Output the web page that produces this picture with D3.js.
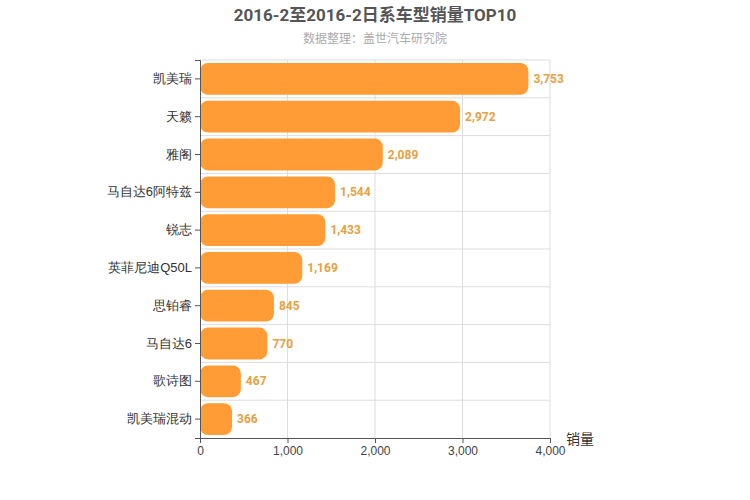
<!DOCTYPE html>
<html><head><meta charset="utf-8">
<script src="https://cdn.jsdelivr.net/npm/d3@7"></script>
<style>body{margin:0;font-family:Roboto,"Noto Sans CJK SC",sans-serif;}</style>
</head><body><div id="container"><svg></svg></div>
<script>
let categories = ['凯美瑞','天籁','雅阁','马自达6阿特兹','锐志','英菲尼迪Q50L','思铂睿','马自达6','歌诗图','凯美瑞混动'];
let values = [3753,2972,2089,1544,1433,1169,845,770,467,366];
let ticks = [0,1000,2000,3000,4000];

let width = 750, height = 500;
let margin = {left:200, right:200, top:60, bottom:62};
let svg = d3.select('svg').attr('width', width).attr('height', height);

let x = d3.scaleLinear().domain([0,4000]).range([margin.left, width-margin.right]);
let y = d3.scaleBand().domain(categories).range([margin.top, height-margin.bottom]).paddingInner(0.16).paddingOuter(0.08);
let step = y.step();

// grid
svg.append('g').selectAll('line.v').data(ticks.slice(1)).join('line')
  .attr('x1', d=>x(d)).attr('x2', d=>x(d))
  .attr('y1', margin.top).attr('y2', height-margin.bottom)
  .attr('stroke','#ddd');
svg.append('g').selectAll('line.h').data(d3.range(categories.length)).join('line')
  .attr('x1', x(0)).attr('x2', x(4000))
  .attr('y1', i=>margin.top+i*step).attr('y2', i=>margin.top+i*step)
  .attr('stroke','#ddd');

// bars
svg.append('g').selectAll('rect').data(values).join('rect')
  .attr('x', x(0)).attr('y', (d,i)=>y(categories[i]))
  .attr('width', d=>x(d)-x(0)).attr('height', y.bandwidth())
  .attr('rx', 8).attr('fill', '#ff9c35');

svg.append('g').selectAll('text').data(values).join('text')
  .attr('x', d=>x(d)+5).attr('y', (d,i)=>y(categories[i])+y.bandwidth()/2+4)
  .attr('font-size', 12).attr('font-weight', 'bold').attr('fill', '#e8a040')
  .text(d=>d3.format(',')(d));

// axes
let xa = svg.append('g').attr('transform', `translate(0,${height-margin.bottom})`)
  .call(d3.axisBottom(x).tickValues(ticks).tickFormat(d3.format(',')).tickSize(5));
xa.selectAll('text').attr('font-size', 12).attr('fill','#444');
xa.selectAll('line,path').attr('stroke','#555');

let ya = svg.append('g').attr('transform', `translate(${margin.left},0)`)
  .call(d3.axisLeft(y).tickSize(5));
ya.selectAll('text').attr('font-size', 13).attr('fill','#333');
ya.selectAll('line,path').attr('stroke','#555');

svg.append('text').attr('x', 580).attr('y', 444).attr('text-anchor','middle')
  .attr('font-size', 14).attr('fill','#333').text('销量');

svg.append('text').attr('x', 375).attr('y', 21).attr('text-anchor','middle')
  .attr('font-size', 17).attr('font-weight','bold').attr('fill','#555').text('2016-2至2016-2日系车型销量TOP10');
svg.append('text').attr('x', 375).attr('y', 43).attr('text-anchor','middle')
  .attr('font-size', 12).attr('fill','#aaa').text('数据整理：盖世汽车研究院');
</script></body></html>
